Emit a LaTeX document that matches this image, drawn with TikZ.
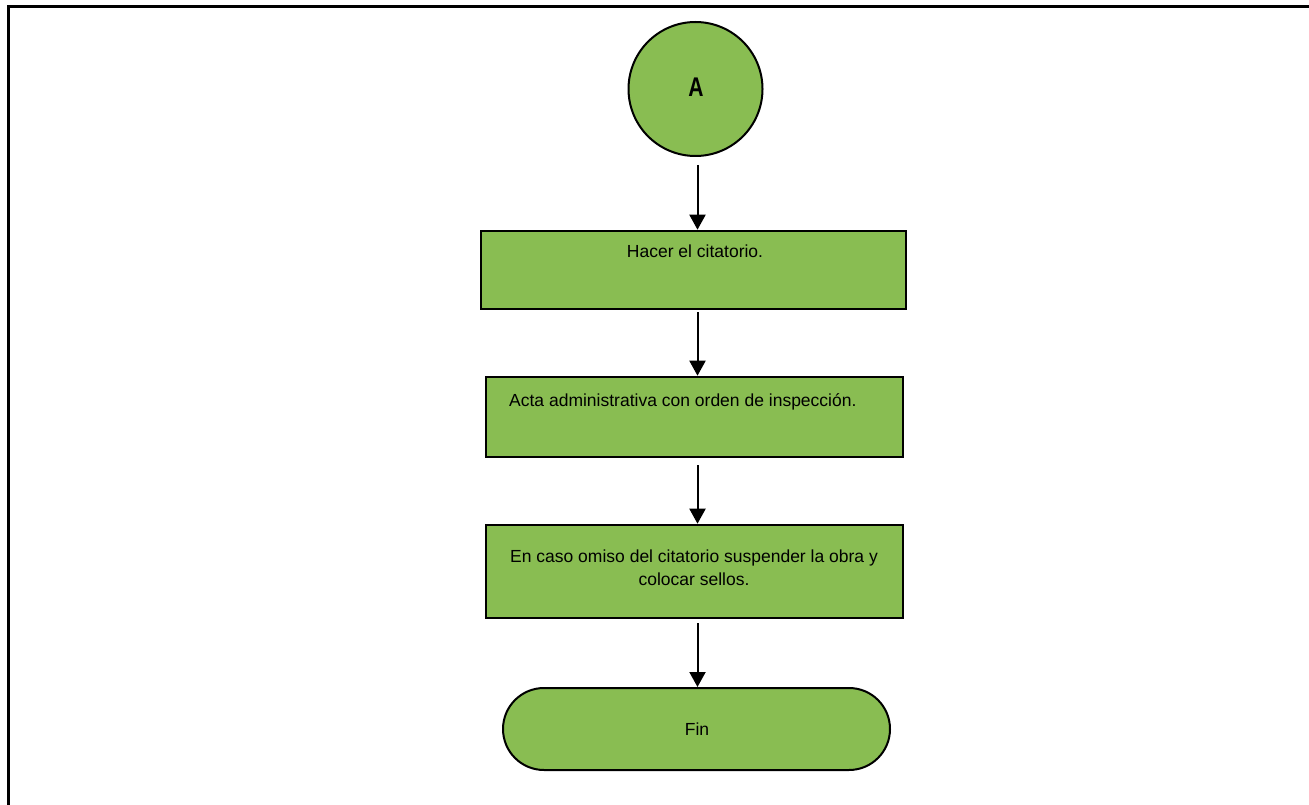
\documentclass[tikz,border=0pt]{standalone}
\usepackage{fontspec}
\setmainfont{Liberation Sans}
\usetikzlibrary{arrows.meta,shapes.misc}
\definecolor{boxgreen}{RGB}{137,189,82}
\begin{document}
\begin{tikzpicture}[x=1pt,y=-1pt,
  frameline/.style={line width=2.4pt,black},
  stepbox/.style={draw=black,line width=2.6pt,fill=boxgreen,rectangle,inner sep=0pt},
  conn/.style={draw=black,fill=boxgreen,circle,line width=2pt,inner sep=0pt,minimum size=134pt},
  term/.style={draw=black,fill=boxgreen,rounded rectangle,line width=2pt,inner sep=0pt},
  txt/.style={font=\fontsize{17.5}{23}\selectfont,inner sep=0pt,anchor=base},
  arr/.style={line width=2pt,-{Triangle[width=16pt,length=15pt]}}
]
\useasboundingbox (0,0) rectangle (1309,805);
% frame
\coordinate (fl) at (8.5,805);
\coordinate (ftl) at (8.5,6.5);
\coordinate (fr) at (1309,6.5);
\draw[frameline] (fl) -- (ftl) -- (fr);

% connector A
\node[conn] (A) at (695.5,89) {};
\node[font=\fontsize{27}{27}\selectfont\bfseries,inner sep=0pt,anchor=base] (Atxt) at (696,97) {\scalebox{0.78}[1]{A}};

% boxes
\node[stepbox,minimum width=425pt,minimum height=78pt] (b1) at (693.5,270) {};
\node[txt] (t1) at (695,258) {Hacer el citatorio.};

\node[stepbox,minimum width=417pt,minimum height=80pt] (b2) at (694.5,417) {};
\node[txt,anchor=base west] (t2) at (509,406) {Acta administrativa con orden de inspección.};

\node[stepbox,minimum width=417pt,minimum height=93pt] (b3) at (694.5,571.5) {};
\node[txt,align=center] (t3) at (694,585) {En caso omiso del citatorio suspender la obra y\\colocar sellos.};

% terminal
\node[term,minimum width=387pt,minimum height=82pt] (fin) at (696.5,729) {};
\node[txt] (tfin) at (697,735) {Fin};

% arrows
\coordinate (c1) at (697.5,165);
\coordinate (c2) at (697.5,312);
\coordinate (c3) at (697.5,465);
\coordinate (c4) at (697.5,623);
\draw[arr] (c1) -- (c1 |- b1.north);
\draw[arr] (c2) -- (c2 |- b2.north);
\draw[arr] (c3) -- (c3 |- b3.north);
\draw[arr] (c4) -- (c4 |- fin.north);
\end{tikzpicture}
\end{document}
